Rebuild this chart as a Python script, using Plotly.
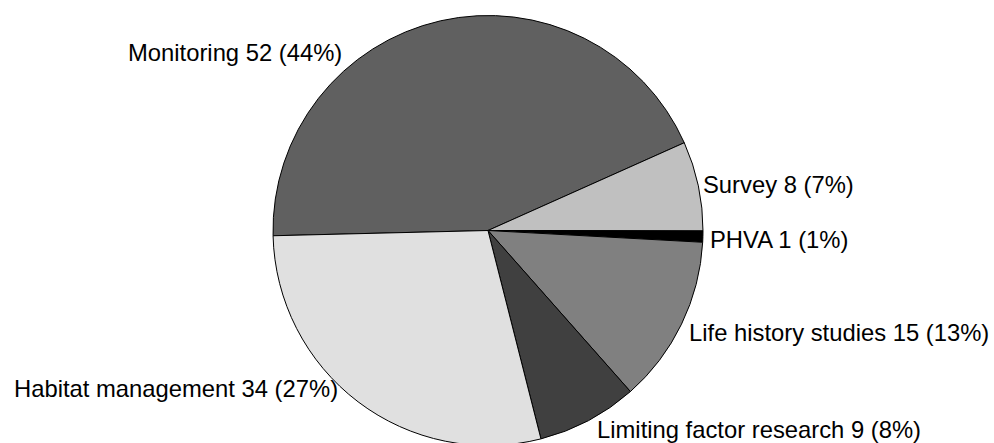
import plotly.graph_objects as go

categories = ["Monitoring", "Survey", "PHVA", "Life history studies",
              "Limiting factor research", "Habitat management"]
counts = [52, 8, 1, 15, 9, 34]
percent_labels = ["44%", "7%", "1%", "13%", "8%", "27%"]
colors = ["#606060", "#c0c0c0", "#000000", "#808080", "#404040", "#e0e0e0"]

W, H = 994, 450          # figure a little taller than the 443px window: pie bottom is clipped
# pie geometry (pixels): center and radius
CX, CY, R = 488, 230.5, 215
# label anchor pixel positions (text start / end, vertical centre) and anchors
label_px = [(344, 53), (701, 184), (708, 239), (687, 332), (595, 429), (340, 388)]
label_anchor = ["right", "left", "left", "left", "left", "right"]

fig = go.Figure()
fig.add_trace(go.Pie(
    labels=categories,
    values=counts,
    sort=False,
    direction="clockwise",
    rotation=268.6,
    textinfo="none",
    hoverinfo="label+value+percent",
    marker=dict(colors=colors, line=dict(color="#000000", width=1)),
    domain=dict(x=[(CX - R) / W, (CX + R) / W],
                y=[(H - (CY + R)) / H, (H - (CY - R)) / H]),
    showlegend=False,
))

for cat, val, pct, (px, py), anc in zip(categories, counts, percent_labels, label_px, label_anchor):
    fig.add_annotation(
        text=f"{cat} {val} ({pct})",
        xref="paper", yref="paper",
        x=px / W, y=1 - py / H,
        xanchor=anc, yanchor="middle",
        showarrow=False,
        font=dict(family="Liberation Sans, Arial, sans-serif", size=23.8, color="#000000"),
    )

fig.update_layout(
    width=W, height=H,
    margin=dict(l=0, r=0, t=0, b=0),
    paper_bgcolor="#ffffff",
    plot_bgcolor="#ffffff",
)

fig.write_html(
    "out.html",
    config={"displayModeBar": False},
    post_script="document.body.style.margin='0';document.body.style.overflow='hidden';",
)
